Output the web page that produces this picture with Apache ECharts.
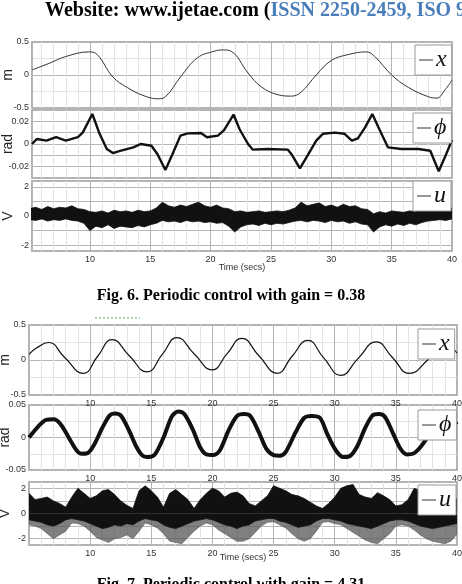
<!DOCTYPE html>
<html>
<head>
<meta charset="utf-8">
<script src="https://cdn.jsdelivr.net/npm/echarts@6/dist/echarts.min.js"></script>
<style>html,body{margin:0;padding:0;background:#fff}#main{width:462px;height:584px}</style>
</head>
<body>
<div id="main"></div>
<script>
// Fig. 6 - gain 0.38
let f6xT = [5.2, 6.67, 8.0, 9.9, 10.6, 11.9, 13.1, 14.4, 15.6, 16.25, 17.5, 18.9, 20.3, 21.0, 21.7, 23.1, 24.2, 25.6, 26.7, 27.5, 28.75, 30.0, 31.4, 32.9, 33.6, 35.0, 36.4, 38.05, 38.75, 39.4, 40];
let f6xV = [0.077, 0.18, 0.28, 0.35, 0.31, -0.03, -0.19, -0.31, -0.36, -0.33, -0.03, 0.26, 0.36, 0.38, 0.36, 0.03, -0.18, -0.30, -0.32, -0.26, 0, 0.22, 0.31, 0.35, 0.28, 0, -0.19, -0.33, -0.35, -0.23, -0.08];
let f6pT = [5.2, 5.6, 6.4, 7.2, 8.0, 9.0, 9.4, 10.2, 10.8, 11.4, 11.9, 12.5, 13.6, 14.2, 15.1, 15.6, 16.25, 16.8, 17.5, 18.1, 19.2, 19.7, 20.6, 21.1, 21.9, 22.4, 23.1, 23.5, 24.7, 26.4, 26.7, 27.4, 28.1, 28.75, 29.3, 30.3, 31.1, 31.7, 32.2, 32.8, 33.4, 33.9, 34.7, 35.8, 37.2, 38.2, 38.9, 39.4, 40];
let f6pV = [0, 0.0044, 0.003, 0.006, 0.003, 0.006, 0.010, 0.0265, 0.009, -0.0044, -0.008, -0.006, -0.003, 0, -0.0015, -0.009, -0.023, -0.010, 0.0074, 0.0094, 0.0097, 0.006, 0.0074, 0.012, 0.026, 0.013, 0, -0.005, -0.0044, -0.005, -0.009, -0.0215, -0.009, 0.003, 0.009, 0.010, 0.009, 0.003, 0.005, 0.0147, 0.0265, 0.0147, -0.003, -0.0044, -0.0044, -0.006, -0.024, -0.012, 0.0035];

// u sampled every 0.5 s from 5 to 40
let tU = [5, 5.5, 6, 6.5, 7, 7.5, 8, 8.5, 9, 9.5, 10, 10.5, 11, 11.5, 12, 12.5, 13, 13.5, 14, 14.5, 15, 15.5, 16, 16.5, 17, 17.5, 18, 18.5, 19, 19.5, 20, 20.5, 21, 21.5, 22, 22.5, 23, 23.5, 24, 24.5, 25, 25.5, 26, 26.5, 27, 27.5, 28, 28.5, 29, 29.5, 30, 30.5, 31, 31.5, 32, 32.5, 33, 33.5, 34, 34.5, 35, 35.5, 36, 36.5, 37, 37.5, 38, 38.5, 39, 39.5, 40];
let f6uHi = [0.5, 0.6, 0.45, 0.65, 0.5, 0.6, 0.55, 0.7, 0.5, 0.45,
  0.3, 0.25, 0.35, 0.2, 0.4, 0.3, 0.35, 0.25, 0.4, 0.3,
  0.35, 0.55, 0.95, 0.7, 0.6, 0.75, 0.65, 0.8, 0.95, 0.7,
  0.6, 0.75, 0.55, 0.5, 0.3, 0.35, 0.25, 0.3, 0.35, 0.25,
  0.3, 0.35, 0.3, 0.4, 0.55, 0.95, 0.7, 0.8, 0.9, 0.65,
  0.75, 0.6, 0.8, 0.65, 0.7, 0.5, 0.45, 0.15, 0.3, 0.2,
  0.35, 0.3, 0.25, 0.35, 0.3, 0.45, 0.5, 0.55, 0.45, 0.5, 0.55];
let f6uLo = [-0.25, -0.3, -0.2, -0.35, -0.25, -0.3, -0.2, -0.3, -0.35, -0.5,
  -1.0, -0.7, -0.8, -0.6, -0.85, -0.7, -0.75, -0.8, -0.65, -0.75,
  -0.6, -0.5, -0.3, -0.4, -0.35, -0.45, -0.3, -0.4, -0.35, -0.45,
  -0.4, -0.5, -0.45, -0.7, -1.1, -0.75, -0.6, -0.55, -0.65, -0.5,
  -0.6, -0.5, -0.55, -0.45, -0.35, -0.3, -0.4, -0.3, -0.35, -0.45,
  -0.3, -0.4, -0.35, -0.5, -0.4, -0.55, -0.6, -1.1, -0.75, -0.6,
  -0.7, -0.55, -0.65, -0.5, -0.6, -0.45, -0.35, -0.3, -0.25, -0.3, -0.2];

// Fig. 7 - gain 4.31
let f7xT = [5, 5.6, 6.6, 7.9, 9.45, 10.6, 11.8, 13.2, 14.65, 15.9, 17.1, 18.5, 19.98, 21.2, 22.4, 23.8, 25.3, 26.5, 27.8, 29.1, 30.5, 31.9, 33.4, 34.7, 36.1, 37.6, 38.9, 40];
let f7xV = [0.08, 0.17, 0.25, 0.04, -0.19, 0.05, 0.29, 0.06, -0.17, 0.08, 0.32, 0.09, -0.14, 0.09, 0.31, 0.06, -0.19, 0.05, 0.28, 0.03, -0.22, 0.02, 0.26, 0.04, -0.19, 0.0, 0.24, 0.1];
let f7pT = [5, 5.8, 6.4, 7.0, 7.6, 8.4, 8.9, 9.3, 9.8, 10.3, 11.0, 11.6, 12.0, 12.5, 13.2, 13.8, 14.3, 14.8, 15.3, 16.0, 16.7, 17.2, 17.7, 18.4, 19.0, 19.5, 20.1, 20.6, 21.3, 22.0, 22.6, 23.1, 23.8, 24.4, 25.0, 25.5, 26.0, 26.8, 27.5, 28.1, 28.8, 29.4, 30.1, 30.7, 31.2, 31.8, 32.5, 33.1, 33.6, 34.1, 34.8, 35.4, 35.9, 36.4, 37.0, 37.8, 38.5, 39.2, 40];
let f7pV = [0, 0.018, 0.027, 0.028, 0.02, -0.005, -0.02, -0.025, -0.024, -0.012, 0.015, 0.034, 0.037, 0.034, 0.01, -0.015, -0.028, -0.03, -0.026, 0, 0.033, 0.04, 0.036, 0.012, -0.015, -0.026, -0.027, -0.02, 0.01, 0.033, 0.036, 0.033, 0.008, -0.017, -0.027, -0.028, -0.022, 0.008, 0.03, 0.033, 0.03, 0.005, -0.02, -0.03, -0.029, -0.015, 0.015, 0.034, 0.036, 0.032, 0.005, -0.018, -0.026, -0.025, -0.015, 0.006, 0.025, 0.03, 0.02];
let f7uHi = [1.6, 1.1, 1.2, 1.3, 1.0, 0.8, 0.5, 1.3, 2.0, 1.6,
  1.2, 1.4, 1.8, 1.9, 1.5, 1.0, 0.65, 0.4, 1.8, 2.2,
  1.8, 1.3, 0.5, 1.6, 1.9, 1.5, 1.1, 0.4, 1.1, 1.6,
  2.0, 1.8, 1.3, 1.6, 1.7, 1.4, 0.8, 0.6, 1.0, 1.4,
  2.2, 2.0, 1.8, 1.5, 1.4, 1.2, 0.9, 0.6, 0.4, 0.8,
  1.3, 2.0, 2.2, 2.3, 1.5, 1.3, 1.2, 1.65, 1.4, 1.1,
  0.6, 0.7, 1.1, 2.0, 1.8, 1.5, 1.2, 1.0, 0.8, 0.9, 1.2];
let f7uMid = [-0.5, -0.6, -0.7, -0.9, -1.0, -0.8, -0.5, -0.4, -0.5, -0.6,
  -0.8, -1.0, -1.2, -1.1, -0.9, -1.0, -0.8, -0.9, -0.6, -0.4,
  -0.5, -0.6, -0.9, -1.1, -1.2, -1.0, -0.8, -0.6, -0.5, -0.4,
  -0.5, -0.7, -0.9, -1.0, -1.2, -1.0, -0.9, -0.6, -0.5, -0.4,
  -0.4, -0.6, -0.7, -0.9, -1.1, -1.0, -0.9, -0.6, -0.4, -0.4,
  -0.5, -0.6, -0.8, -0.9, -1.0, -1.1, -1.2, -1.0, -0.8, -0.6,
  -0.5, -0.5, -0.6, -0.8, -1.0, -1.1, -1.2, -1.1, -1.0, -0.9, -0.8];
let f7uLo = [-0.9, -1.0, -1.2, -1.6, -2.0, -1.7, -1.4, -0.75, -0.8, -1.0,
  -1.4, -1.9, -2.1, -2.3, -2.0, -1.9, -1.7, -2.0, -1.4, -0.75,
  -0.9, -1.15, -1.6, -2.2, -2.3, -2.4, -1.9, -1.4, -1.0, -0.75,
  -0.9, -1.3, -1.6, -1.9, -2.2, -2.2, -2.0, -1.5, -1.0, -0.7,
  -0.65, -0.9, -1.15, -1.6, -2.0, -2.2, -2.0, -1.4, -0.7, -0.65,
  -0.8, -0.9, -1.2, -1.5, -1.8, -2.1, -2.3, -2.4, -2.0, -1.6,
  -1.0, -0.9, -1.0, -1.3, -1.7, -2.0, -2.2, -2.3, -2.4, -2.2, -1.65];

let yNames = ['m', 'rad', 'V', 'm', 'rad', 'V'];
let legendNames = ['x', 'ϕ', 'u', 'x', 'ϕ', 'u'];

function zip(t, v) {
    return t.map(function (x, i) { return [x, v[i]]; });
}

let grids = [
    {left: 32, right: 10, top: 42, height: 66},
    {left: 32, right: 10, top: 110, height: 68},
    {left: 32, right: 10, top: 181, height: 70},
    {left: 29, right: 5, top: 325, height: 70},
    {left: 29, right: 5, top: 405, height: 65},
    {left: 29, right: 5, top: 482, height: 63}
];
grids.forEach(function (g) {
    g.show = true;
    g.containLabel = false;
    g.outerBoundsMode = 'none';
    g.backgroundColor = '#fff';
    g.borderColor = '#9a9a9a';
    g.borderWidth = 1.5;
});

let labelFont = {fontSize: 9, color: '#333', fontFamily: 'Liberation Sans'};
let majorLine = {show: true, lineStyle: {color: '#b5b5b5', width: 1}};
let minorLine = {show: true, lineStyle: {color: '#e3e3e3', width: 1}};

function xAx(i, min, interval, showLabel, withName) {
    let a = {
        type: 'value', gridIndex: i, min: min, max: 40,
        axisLine: {show: false}, axisTick: {show: false},
        axisLabel: Object.assign({
            show: showLabel, margin: 4, showMinLabel: false,
            formatter: function (v) { return v % 5 === 0 ? String(v) : ''; }
        }, labelFont),
        splitLine: majorLine,
        minorTick: {show: false, splitNumber: 5},
        minorSplitLine: minorLine,
        name: withName ? 'Time (secs)' : '',
        nameLocation: 'middle',
        nameMoveOverlap: false,
        nameGap: i < 3 ? 12 : 8,
        nameTextStyle: {fontSize: 9, color: '#333', fontFamily: 'Liberation Sans'}
    };
    if (interval) a.interval = interval;
    return a;
}

function yAx(i, min, max, interval, fmt, minor) {
    let a = {
        type: 'value', gridIndex: i, min: min, max: max,
        axisLine: {show: false}, axisTick: {show: false},
        axisLabel: Object.assign({margin: 3, formatter: fmt}, labelFont),
        splitLine: majorLine,
        name: yNames[i], nameLocation: 'middle', nameRotate: 90, nameGap: 17,
        nameMoveOverlap: false,
        nameTextStyle: {fontSize: 14, color: '#222', fontFamily: 'Liberation Sans'}
    };
    if (interval) a.interval = interval;
    if (minor) {
        a.minorTick = {show: false, splitNumber: minor};
        a.minorSplitLine = minorLine;
    }
    return a;
}

function fmtHalf(v) { return v === 0 ? '0' : String(v); }
function fmtPhi6(v) {
    let k = Math.round(v * 100);
    if (Math.abs(k) > 2 || k % 2 !== 0) return '';
    return k === 0 ? '0' : v.toFixed(2);
}
function fmtU(v) {
    return (Number.isInteger(v) && v % 2 === 0) ? String(v) : '';
}

function lineS(name, i, data, color, width, smooth) {
    return {
        name: name, type: 'line', xAxisIndex: i, yAxisIndex: i, data: data,
        showSymbol: false, smooth: smooth, color: color,
        lineStyle: {color: color, width: width}, silent: true, z: 3
    };
}
function bandS(name, i, data, color, z, op) {
    return {
        name: name, type: 'line', xAxisIndex: i, yAxisIndex: i, data: data,
        showSymbol: false, color: color,
        lineStyle: {color: color, width: 0.8, opacity: op || 1},
        areaStyle: {color: color, opacity: op || 1, origin: 0}, silent: true, z: z
    };
}

let legendBoxes = [
    {left: 415, top: 45}, {left: 413, top: 113}, {left: 413, top: 181},
    {left: 418, top: 329}, {left: 418, top: 410}, {left: 418, top: 485}
];
let legends = legendBoxes.map(function (p, i) {
    return {
        left: p.left, top: p.top, orient: 'vertical',
        data: [{name: legendNames[i], icon: 'rect', itemStyle: {color: '#777'}}],
        itemWidth: 14, itemHeight: 1.5, itemGap: 0,
        padding: [3, 5, 3, 4],
        backgroundColor: '#fff', borderColor: '#9a9a9a', borderWidth: 1,
        selectedMode: false,
        textStyle: {fontFamily: 'Liberation Serif', fontStyle: 'italic', fontSize: 24, color: '#111', padding: [0, 0, 0, -2]}
    };
});

let myChart = echarts.init(document.getElementById('main'));
let option = {
    animation: false,
    backgroundColor: '#fff',
    grid: grids,
    legend: legends,
    xAxis: [
        xAx(0, 5.2, 0, false, false), xAx(1, 5.2, 0, false, false), xAx(2, 5.2, 0, true, true),
        xAx(3, 5, 5, true, false), xAx(4, 5, 5, true, false), xAx(5, 5, 5, true, true)
    ],
    yAxis: [
        yAx(0, -0.5, 0.5, 0.5, fmtHalf, 2),
        yAx(1, -0.03, 0.03, 0.01, fmtPhi6, 0),
        yAx(2, -2.4, 2.4, 0, fmtU, 0),
        yAx(3, -0.5, 0.5, 0.5, fmtHalf, 2),
        yAx(4, -0.05, 0.05, 0.05, fmtHalf, 2),
        yAx(5, -2.5, 2.5, 0, fmtU, 0)
    ],
    series: [
        lineS('x', 0, zip(f6xT, f6xV), '#333', 1, 0.4),
        lineS('ϕ', 1, zip(f6pT, f6pV), '#111', 2.4, false),
        bandS('u', 2, zip(tU, f6uHi), '#111', 3),
        bandS('u low', 2, zip(tU, f6uLo), '#111', 3),
        lineS('x', 3, zip(f7xT, f7xV), '#111', 1.2, 0.5),
        lineS('ϕ', 4, zip(f7pT, f7pV), '#111', 4, 0.3),
        bandS('u gray', 5, zip(tU, f7uLo), '#555', 2, 0.75),
        bandS('u', 5, zip(tU, f7uHi), '#111', 3),
        bandS('u mid', 5, zip(tU, f7uMid), '#111', 3)
    ],
    graphic: [
        {
            type: 'text', left: 45, top: 1,
            style: {
                text: '{a|Website: www.ijetae.com (}{b|ISSN 2250-2459, ISO 9001:2008}',
                rich: {
                    a: {fill: '#000', fontSize: 20, fontWeight: 'bold', fontFamily: 'Liberation Serif'},
                    b: {fill: '#4a7ebb', fontSize: 20, fontWeight: 'bold', fontFamily: 'Liberation Serif'}
                }
            }
        },
        {
            type: 'text', left: 'center', top: 288,
            style: {text: 'Fig. 6. Periodic control with gain = 0.38', fill: '#000', font: 'bold 16px "Liberation Serif"'}
        },
        {
            type: 'text', left: 'center', top: 577,
            style: {text: 'Fig. 7. Periodic control with gain = 4.31', fill: '#000', font: 'bold 16px "Liberation Serif"'}
        },
        {
            type: 'line', shape: {x1: 95, y1: 318, x2: 140, y2: 318},
            style: {stroke: '#4caf50', lineWidth: 1, lineDash: [2, 2]}
        }
    ]
};
myChart.setOption(option);
</script>
</body>
</html>
